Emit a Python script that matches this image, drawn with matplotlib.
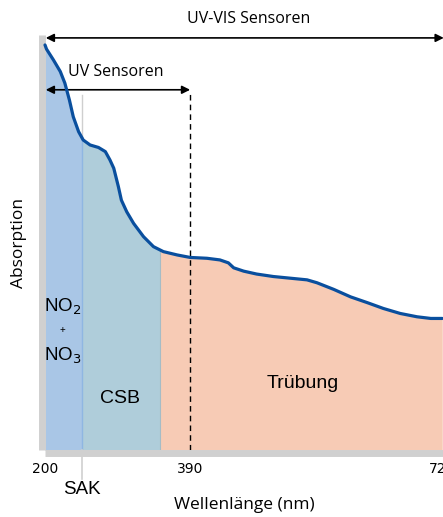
import numpy as np
import matplotlib.pyplot as plt

# Absorptionsspektrum (willkuerliche Einheiten)
wl = [200, 202, 211, 220, 226, 232, 237, 244, 250, 259, 270, 279, 285, 290, 296,
      300, 307, 316, 329, 342, 355, 373, 390, 412, 429, 440, 447, 460, 477, 499,
      521, 543, 556, 578, 600, 622, 643, 665, 687, 705, 720]
absorb = [0.976, 0.966, 0.940, 0.912, 0.884, 0.843, 0.803, 0.767, 0.747, 0.735,
          0.729, 0.719, 0.699, 0.679, 0.635, 0.602, 0.574, 0.546, 0.514, 0.490,
          0.478, 0.470, 0.464, 0.462, 0.458, 0.451, 0.439, 0.431, 0.424, 0.418,
          0.414, 0.410, 0.403, 0.387, 0.369, 0.355, 0.341, 0.329, 0.321, 0.317, 0.317]

# Bereiche
regions = [(200, 248, '#a9c6e6'), (248, 350, '#afcdda'), (350, 720, '#f7cbb5')]
sak_nm = 248
uv_end = 390
ticks = [200, 390, 720]
tick_labels = ['200', '390', '720']

fig = plt.figure(figsize=(4.43, 5.17), dpi=100)
ax = fig.add_axes([45/443, 67/517, 398/443, 415/517])

wl_a = np.array(wl)
ab_a = np.array(absorb)
for lo, hi, c in regions:
    m = (wl_a >= lo) & (wl_a <= hi)
    xs = np.concatenate([[lo], wl_a[m], [hi]])
    ys = np.interp(xs, wl_a, ab_a)
    ax.fill_between(xs, 0, ys, color=c, lw=0)

ax.plot(wl, absorb, color='#0a4f9e', lw=2.3, solid_capstyle='round',
        solid_joinstyle='round', zorder=5, clip_on=False)

# Trennlinien
y_sak = np.interp(sak_nm, wl_a, ab_a)
ax.plot([sak_nm, sak_nm], [0, y_sak], color='#8fb6e2', lw=1)
ax.plot([sak_nm, sak_nm], [y_sak, 0.855], color='#cfcfcf', lw=1)
ax.plot([sak_nm, sak_nm], [0, -0.07], color='#cfcfcf', lw=1.2, clip_on=False)
ax.plot([350, 350], [0, np.interp(350, wl_a, ab_a)], color='#a5bcc6', lw=0.8)
ax.plot([uv_end, uv_end], [0, 0.862], color='black', lw=1, ls=(0, (4, 3)), clip_on=False)

# Pfeile
ax.annotate('', xy=(201, 0.993), xytext=(722, 0.993), xycoords='data',
            arrowprops=dict(arrowstyle='<|-|>', color='black', lw=1.2,
                            mutation_scale=12, shrinkA=0, shrinkB=0),
            annotation_clip=False)
ax.annotate('', xy=(201, 0.868), xytext=(uv_end, 0.868), xycoords='data',
            arrowprops=dict(arrowstyle='<|-|>', color='black', lw=1.2,
                            mutation_scale=12, shrinkA=0, shrinkB=0),
            annotation_clip=False)
ax.text(466, 1.039, 'UV-VIS Sensoren', ha='center', va='center', fontsize=11.5,
        family='Open Sans')
ax.text(293, 0.911, 'UV Sensoren', ha='center', va='center', fontsize=11.5,
        family='Open Sans')

# Beschriftungen der Bereiche
lab = dict(ha='center', va='center', family='Liberation Sans')
ax.text(223, 0.345, 'NO$_2$', fontsize=13.5, **lab)
ax.text(223, 0.29, '+', fontsize=7, **lab)
ax.text(223, 0.227, 'NO$_3$', fontsize=13.5, **lab)
ax.text(298, 0.125, 'CSB', fontsize=14, **lab)
ax.text(538, 0.161, 'Trübung', fontsize=14, **lab)
ax.text(sak_nm, -0.096, 'SAK', fontsize=13.5, **lab)

ax.set_xlim(200, 721)
ax.set_ylim(0, 1)
ax.set_xticks(ticks)
ax.set_xticklabels(tick_labels, fontsize=8.5, family='Liberation Sans')
ax.tick_params(axis='x', length=0, pad=6)
ax.set_yticks([])
for s in ['top', 'right']:
    ax.spines[s].set_visible(False)
for s in ['left', 'bottom']:
    ax.spines[s].set_color('#d0d0d0')
    ax.spines[s].set_linewidth(5)
    ax.spines[s].set_position(('outward', 2.5))
    ax.spines[s].set_capstyle('butt')

ax.set_xlabel('Wellenlänge (nm)', fontsize=12.5, family='Open Sans')
ax.xaxis.set_label_coords(0.5, -0.113)
ax.set_ylabel('Absorption', fontsize=12.5, family='Open Sans')
ax.yaxis.set_label_coords(-0.045, 0.5)

fig.savefig('out.png', dpi=100)
